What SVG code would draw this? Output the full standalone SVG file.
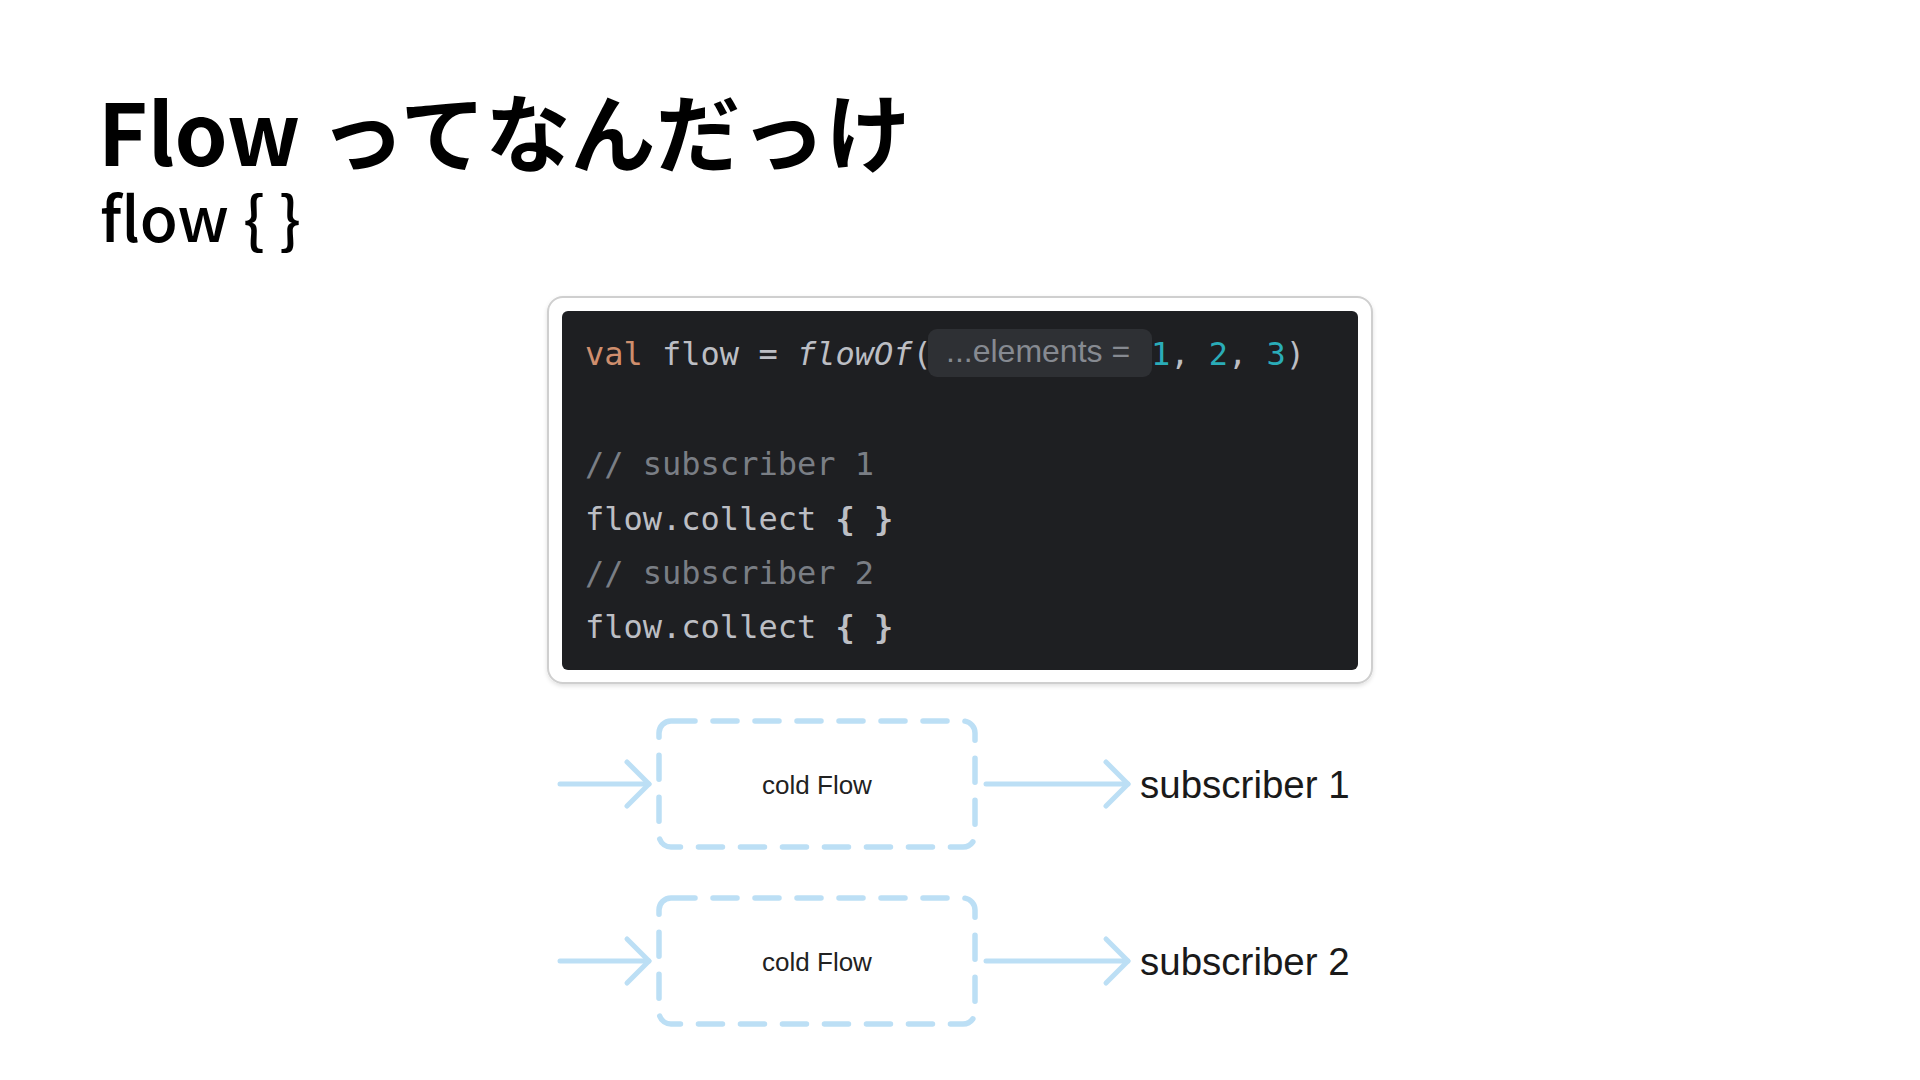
<svg xmlns="http://www.w3.org/2000/svg" width="1920" height="1080" viewBox="0 0 1920 1080">
  <style>
    .title { font-family: "Noto Sans CJK JP", "Noto Sans", sans-serif; fill: #000; }
    .code { font-family: "DejaVu Sans Mono", "Liberation Mono", monospace; font-size: 32px; fill: #bcbec4; }
    .kw { fill: #cf8e6d; }
    .num { fill: #2aacb8; }
    .cmt { fill: #7a7e85; }
    .fn { font-style: italic; }
    .brace { font-weight: bold; }
    .hint { font-family: "Liberation Sans", Arial, sans-serif; font-size: 32px; fill: #868a91; }
    .cold { fill: #ffffff; stroke: #bcdff5; stroke-width: 5.5; stroke-dasharray: 24 18; stroke-linecap: round; }
    .coldtext { font-family: "Liberation Sans", Arial, sans-serif; font-size: 26px; fill: #222; text-anchor: middle; }
    .sub { font-family: "Liberation Sans", Arial, sans-serif; font-size: 38.5px; fill: #1a1a1a; }
    .conn { stroke: #bcdff5; stroke-width: 5; fill: none; stroke-linecap: round; }
  </style>
  <defs>
    <marker id="chev" markerUnits="userSpaceOnUse" markerWidth="40" markerHeight="60" viewBox="-30 -30 40 60" refX="0" refY="0" orient="auto">
      <path d="M -22 -22 L 0 0 L -22 22" fill="none" stroke="#bcdff5" stroke-width="5" stroke-linecap="round" stroke-linejoin="round"/>
    </marker>
    <filter id="shadow" x="-5%" y="-5%" width="110%" height="115%">
      <feDropShadow dx="0" dy="2" stdDeviation="2" flood-color="#000" flood-opacity="0.12"/>
    </filter>
  </defs>
  <rect width="1920" height="1080" fill="#ffffff"/>

  <g id="title">
    <text class="title" x="98" y="166" font-size="85" font-weight="700">Flow ってなんだっけ</text>
    <text class="title" x="100" y="242" font-size="62" font-weight="500">flow { }</text>
  </g>

  <g id="code-block">
    <rect x="548" y="297" width="824" height="386" rx="15" fill="#ffffff" stroke="#cfcfcf" stroke-width="2" filter="url(#shadow)"/>
    <rect x="562" y="311" width="796" height="359" rx="6" fill="#1e1f22"/>
    <text class="code" x="585" y="365"><tspan class="kw">val</tspan> flow = <tspan class="fn">flowOf</tspan>(</text>
    <rect x="928" y="329" width="224" height="48" rx="9" fill="#2e3034"/>
    <text class="hint" x="946" y="362">...elements =</text>
    <text class="code" x="1151" y="365"><tspan class="num">1</tspan>, <tspan class="num">2</tspan>, <tspan class="num">3</tspan>)</text>
    <text class="code cmt" x="585" y="475">// subscriber 1</text>
    <text class="code" x="585" y="530">flow.collect <tspan class="brace">{ }</tspan></text>
    <text class="code cmt" x="585" y="584">// subscriber 2</text>
    <text class="code" x="585" y="638">flow.collect <tspan class="brace">{ }</tspan></text>
  </g>

  <g id="cold-flow-1">
    <rect class="cold" x="659" y="721" width="316" height="126" rx="12"/>
    <text class="coldtext" x="817" y="794">cold Flow</text>
  </g>
  <g id="subscriber-1">
    <text class="sub" x="1140" y="798">subscriber 1</text>
  </g>

  <g id="cold-flow-2">
    <rect class="cold" x="659" y="898" width="316" height="126" rx="12"/>
    <text class="coldtext" x="817" y="971">cold Flow</text>
  </g>
  <g id="subscriber-2">
    <text class="sub" x="1140" y="975">subscriber 2</text>
  </g>

  <g id="connectors">
    <line class="conn" x1="560" y1="784" x2="649" y2="784" marker-end="url(#chev)"/>
    <line class="conn" x1="986" y1="784" x2="1128" y2="784" marker-end="url(#chev)"/>
    <line class="conn" x1="560" y1="961" x2="649" y2="961" marker-end="url(#chev)"/>
    <line class="conn" x1="986" y1="961" x2="1128" y2="961" marker-end="url(#chev)"/>
  </g>
</svg>
